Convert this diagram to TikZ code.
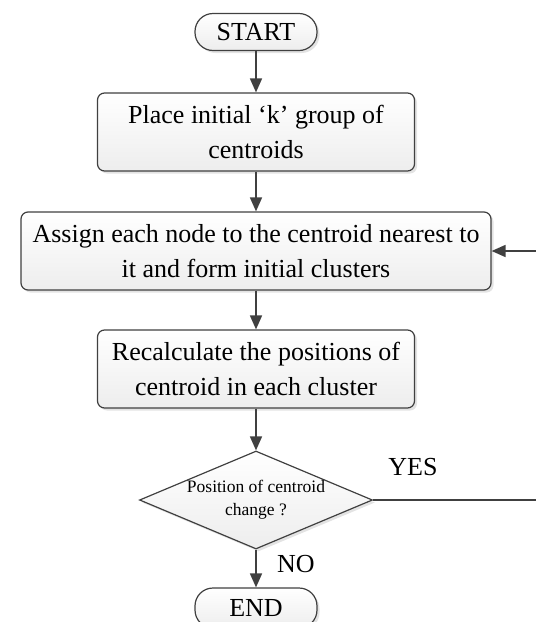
\documentclass[tikz,border=0pt]{standalone}
\usepackage{fontspec}
\setmainfont{Liberation Serif}
\usetikzlibrary{arrows.meta, shapes.geometric, shadows}
\definecolor{linegray}{HTML}{404040}

\begin{document}
\begin{tikzpicture}[x=1pt, y=-1pt,
  boxbase/.style={draw=linegray, line width=1.2pt, top color=white, bottom color=gray!14,
    drop shadow={opacity=0.22, shadow xshift=2.5pt, shadow yshift=-2.5pt},
    align=center, inner sep=0pt, font=\fontsize{26}{35}\selectfont},
  procbox/.style={boxbase, rounded corners=7pt, minimum width=317pt, minimum height=78pt},
  termbox/.style={boxbase, rounded corners=18pt, minimum width=122pt, minimum height=37pt},
  decbox/.style={boxbase, diamond, aspect=2.38, minimum width=233pt, minimum height=98pt,
    font=\fontsize{17.5}{23}\selectfont},
  flow/.style={-{Triangle[length=14pt, width=12pt]}, draw=linegray, line width=1.7pt},
  lbl/.style={font=\fontsize{26}{30}\selectfont, inner sep=0pt}]
\path[use as bounding box, clip] (0,0) rectangle (536,622);
% boxes of the flow
\node[termbox] (start) at (256,32) {START};
\node[procbox] (place) at (256,132) {Place initial `k' group of\\centroids};
\node[procbox, minimum width=470pt] (assign) at (256,251) {Assign each node to the centroid nearest to\\it and form initial clusters};
\node[procbox] (recalc) at (256,369) {Recalculate the positions of\\centroid in each cluster};
\node[decbox] (check) at (256,500) {Position of centroid\\change ?};
\node[termbox, minimum height=40pt] (stop) at (256,608) {END};
% connectors
\draw[flow] (start) -- (place);
\draw[flow] (place) -- (assign);
\draw[flow] (assign) -- (recalc);
\draw[flow] (recalc) -- (check);
\draw[flow] (check) -- (stop);
% loop back when the centroids moved
\coordinate (loopdown) at (548,500);
\coordinate (loopup) at (548,251);
\draw[flow] (check.east) -- (loopdown) -- (loopup) -- (assign.east);
\node[lbl] (yeslbl) at (413,467) {YES};
\node[lbl] (nolbl) at (296,564) {NO};
\end{tikzpicture}
\end{document}
